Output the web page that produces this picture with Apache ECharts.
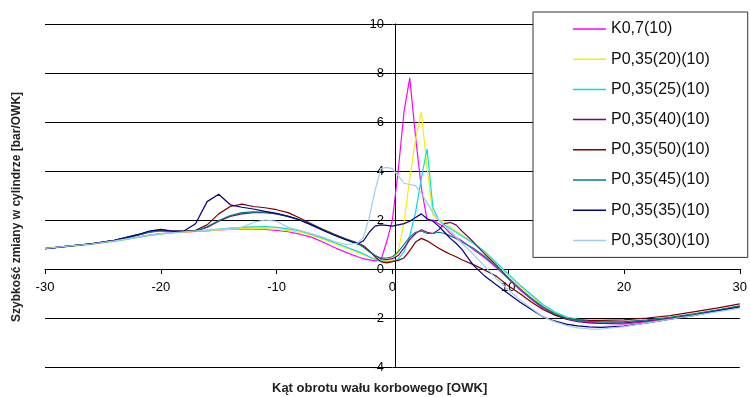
<!DOCTYPE html>
<html>
<head>
<meta charset="utf-8">
<script src="https://cdn.jsdelivr.net/npm/echarts@6/dist/echarts.min.js"></script>
<style>
  html, body { margin: 0; padding: 0; background: #fff; }
  #chart { width: 750px; height: 397px; }
</style>
</head>
<body>
<div id="chart"></div>
<script>
// crank angle [OWK]
var angle = [-30, -28, -26, -24, -22, -21, -20, -19, -18, -17, -16, -15, -14, -13, -12, -11, -10, -9, -8, -7, -6, -5, -4, -3,
  -2.5, -2, -1.5, -1, -0.5, 0, 0.5, 1, 1.5, 2, 2.5, 3, 3.5, 4, 4.5, 5, 5.5, 6,
  7, 8, 9, 10, 11, 12, 13, 14, 15, 16, 17, 18, 20, 22, 24, 26, 28, 30];

var seriesNames = ['K0,7(10)', 'P0,35(20)(10)', 'P0,35(25)(10)', 'P0,35(40)(10)',
  'P0,35(50)(10)', 'P0,35(45)(10)', 'P0,35(35)(10)', 'P0,35(30)(10)'];

var k07 = [0.83, 0.92, 1.02, 1.15, 1.3, 1.38, 1.44, 1.48, 1.5, 1.53, 1.56, 1.6, 1.62, 1.64, 1.63, 1.62, 1.58, 1.52, 1.42, 1.3, 1.1, 0.88, 0.68, 0.5,
  0.42, 0.37, 0.33, 0.35, 1.1, 2.0, 4.0, 6.4, 7.8, 5.4, 3.3, 2.0, 2.0, 1.85, 1.7, 1.45, 1.3, 1.15,
  0.8, 0.45, 0.05, -0.4, -0.85, -1.25, -1.6, -1.85, -2.0, -2.1, -2.18, -2.22, -2.25, -2.15, -2.0, -1.85, -1.7, -1.55];
var p20 = [0.82, 0.91, 1.0, 1.13, 1.28, 1.36, 1.42, 1.47, 1.5, 1.53, 1.57, 1.6, 1.63, 1.65, 1.66, 1.65, 1.62, 1.57, 1.5, 1.38, 1.22, 1.03, 0.86, 0.68,
  0.58, 0.48, 0.4, 0.35, 0.32, 0.35, 0.7, 1.9, 3.7, 5.3, 6.4, 4.1, 2.2, 2.0, 1.95, 1.7, 1.55, 1.4,
  1.05, 0.65, 0.2, -0.25, -0.7, -1.1, -1.5, -1.8, -1.97, -2.06, -2.12, -2.15, -2.15, -2.1, -1.98, -1.85, -1.7, -1.52];
var p25 = [0.83, 0.92, 1.01, 1.14, 1.29, 1.37, 1.43, 1.48, 1.52, 1.55, 1.59, 1.63, 1.67, 1.7, 1.72, 1.73, 1.7, 1.64, 1.55, 1.42, 1.26, 1.08, 0.9, 0.72,
  0.62, 0.5, 0.4, 0.33, 0.3, 0.3, 0.4, 0.7, 1.35, 2.3, 3.7, 4.9, 2.5, 2.0, 1.8, 1.65, 1.5, 1.35,
  1.05, 0.7, 0.25, -0.2, -0.65, -1.05, -1.45, -1.75, -1.95, -2.05, -2.12, -2.16, -2.18, -2.1, -2.0, -1.88, -1.72, -1.55];
var p40 = [0.83, 0.93, 1.03, 1.17, 1.38, 1.5, 1.58, 1.52, 1.53, 1.55, 1.7, 1.95, 2.15, 2.25, 2.3, 2.3, 2.25, 2.15, 2.0, 1.8, 1.58, 1.38, 1.2, 1.03,
  0.9, 0.72, 0.55, 0.42, 0.38, 0.42, 0.55, 0.85, 1.2, 1.45, 1.6, 1.5, 1.45, 1.6, 1.85, 1.9, 1.8, 1.55,
  1.1, 0.6, 0.15, -0.35, -0.8, -1.2, -1.55, -1.85, -2.05, -2.15, -2.2, -2.22, -2.2, -2.12, -2.0, -1.86, -1.7, -1.52];
var p50 = [0.83, 0.93, 1.03, 1.17, 1.4, 1.52, 1.6, 1.55, 1.55, 1.58, 1.8, 2.25, 2.55, 2.65, 2.55, 2.5, 2.42, 2.3, 2.08, 1.85, 1.62, 1.42, 1.22, 1.06,
  0.95, 0.75, 0.5, 0.3, 0.25, 0.3, 0.35, 0.45, 0.75, 1.1, 1.25, 1.15, 1.0, 0.85, 0.72, 0.6, 0.5, 0.38,
  0.18, -0.05, -0.3, -0.68, -1.0, -1.35, -1.65, -1.88, -2.02, -2.08, -2.1, -2.1, -2.08, -2.0, -1.9, -1.75, -1.6, -1.42];
var p45 = [0.83, 0.93, 1.03, 1.17, 1.38, 1.5, 1.56, 1.52, 1.53, 1.56, 1.72, 1.98, 2.18, 2.3, 2.33, 2.32, 2.25, 2.15, 2.02, 1.82, 1.6, 1.4, 1.22, 1.05,
  0.9, 0.7, 0.55, 0.45, 0.45, 0.5, 0.7, 1.0, 1.3, 1.5, 1.55, 1.45, 1.45, 1.5, 1.45, 1.35, 1.25, 1.1,
  0.85, 0.5, 0.1, -0.35, -0.8, -1.2, -1.55, -1.82, -2.0, -2.1, -2.14, -2.16, -2.15, -2.08, -1.97, -1.83, -1.68, -1.5];
var p35 = [0.83, 0.93, 1.03, 1.17, 1.4, 1.55, 1.62, 1.55, 1.55, 1.85, 2.75, 3.05, 2.62, 2.52, 2.45, 2.35, 2.27, 2.15, 2.0, 1.8, 1.58, 1.38, 1.2, 1.02,
  1.15, 1.5, 1.75, 1.8, 1.78, 1.75, 1.8, 1.85, 1.95, 2.1, 2.25, 2.05, 1.95, 1.75, 1.5, 1.25, 1.05, 0.8,
  0.15, -0.3, -0.65, -1.0, -1.35, -1.65, -1.95, -2.12, -2.25, -2.32, -2.36, -2.38, -2.33, -2.2, -2.05, -1.9, -1.72, -1.55];
var p30 = [0.84, 0.93, 1.02, 1.15, 1.3, 1.38, 1.44, 1.48, 1.52, 1.55, 1.58, 1.62, 1.66, 1.7, 1.9, 2.0, 1.95, 1.7, 1.58, 1.45, 1.3, 1.12, 1.0, 1.05,
  1.3, 2.1, 3.2, 4.1, 4.15, 4.1, 3.8, 3.5, 3.45, 3.4, 3.1, 2.7, 2.3, 2.0, 1.75, 1.55, 1.3, 1.05,
  0.6, 0.1, -0.4, -0.85, -1.25, -1.6, -1.95, -2.15, -2.3, -2.4, -2.45, -2.45, -2.35, -2.2, -2.05, -1.9, -1.75, -1.6];

var allValues = [k07, p20, p25, p40, p50, p45, p35, p30];
var colors = ['#ff00ff', '#f2f200', '#00e0e0', '#800080', '#800000', '#008080', '#000080', '#9fcdee'];

var myChart = echarts.init(document.getElementById('chart'));

var series = seriesNames.map(function (name, i) {
  return {
    name: name,
    type: 'line',
    symbol: 'none',
    data: angle.map(function (x, j) { return [x, allValues[i][j]]; }),
    lineStyle: { width: 1.2, color: colors[i] },
    itemStyle: { color: colors[i] },
    z: 3
  };
});

myChart.setOption({
  animation: false,
  backgroundColor: '#fff',
  textStyle: { fontFamily: 'Liberation Sans' },
  grid: { left: 45, right: 5, top: 24, bottom: 30 },
  xAxis: {
    type: 'value',
    min: -30,
    max: 30,
    interval: 10,
    // axis sits on y = 0 (98 px above the grid bottom)
    offset: -98,
    axisLine: { onZero: false, lineStyle: { color: '#000', width: 1 } },
    axisTick: { show: true, length: 5, lineStyle: { color: '#000' } },
    axisLabel: { color: '#000', fontSize: 13, margin: 12 },
    splitLine: { show: false }
  },
  yAxis: {
    type: 'value',
    min: -4,
    max: 10,
    interval: 2,
    // axis sits on x = 0 (350 px right of the grid left)
    offset: -350,
    axisLine: { show: true, onZero: false, lineStyle: { color: '#000', width: 1 } },
    axisTick: { show: false },
    axisLabel: { color: '#000', fontSize: 13, margin: 11 },
    splitLine: { show: true, lineStyle: { color: '#000', width: 1 } }
  },
  legend: {
    orient: 'vertical',
    left: 533,
    top: 12,
    padding: [9, 38, 9, 40],
    itemGap: 14.2,
    icon: 'rect',
    itemWidth: 33,
    itemHeight: 1.5,
    backgroundColor: '#fff',
    borderColor: '#333',
    borderWidth: 1,
    textStyle: { fontSize: 16, lineHeight: 15, color: '#111', fontFamily: 'Liberation Sans' },
    data: seriesNames
  },
  graphic: [
    {
      type: 'text',
      left: 272,
      top: 382,
      style: {
        text: 'Kąt obrotu wału korbowego [OWK]',
        font: 'bold 13px "Liberation Sans"',
        fill: '#222'
      }
    },
    {
      type: 'text',
      x: 11,
      y: 322,
      rotation: Math.PI / 2,
      style: {
        text: 'Szybkość zmiany w cylindrze [bar/OWK]',
        font: 'bold 12px "Liberation Sans"',
        fill: '#222'
      }
    }
  ],
  series: series
});
</script>
</body>
</html>
